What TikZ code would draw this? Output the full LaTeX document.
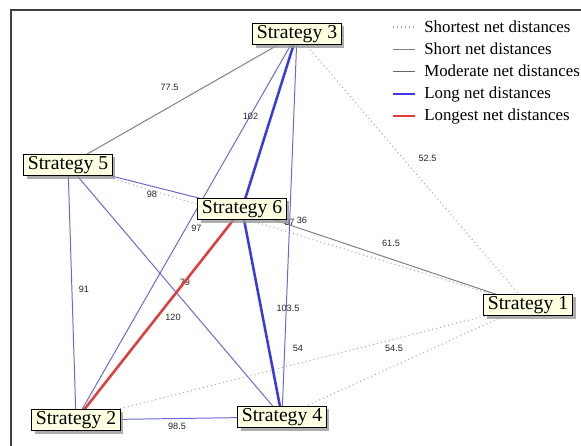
\documentclass[tikz,border=0pt]{standalone}
\usepackage{xcolor}
\usepackage{fontspec}
\usepackage{tikz}
\usetikzlibrary{shadows,backgrounds}
\setmainfont{Liberation Serif}
\newfontfamily\lblfont{Liberation Sans}
\definecolor{boxfill}{RGB}{255,255,225}
\definecolor{modblue}{RGB}{104,104,208}
\definecolor{longblue}{RGB}{58,58,226}
\definecolor{longred}{RGB}{226,60,60}
\definecolor{shortgray}{RGB}{128,128,128}

\tikzset{
  strat/.style={draw=black, fill=boxfill, line width=0.6pt, inner xsep=3pt, inner ysep=1.5pt,
    font=\fontsize{14}{16}\selectfont,
    drop shadow={shadow xshift=2.2pt, shadow yshift=-2.2pt, fill=gray!80, opacity=0.8}},
  lbl/.style={text=black!85, font=\lblfont\fontsize{6.5}{7}\selectfont, inner sep=0.5pt},
  legtext/.style={anchor=west, inner sep=0pt, font=\fontsize{12}{14}\selectfont},
  shortest/.style={gray!65, line width=0.8pt, dash pattern=on 0.7pt off 2.2pt},
  shortline/.style={shortgray, line width=0.7pt},
  moderate/.style={modblue, line width=0.7pt},
  longline/.style={longblue, line width=1.8pt},
  longest/.style={longred, line width=1.8pt}
}

\begin{document}
\begin{tikzpicture}[x=0.025cm, y=-0.025cm]
        \useasboundingbox (0,0) rectangle (581,446);

        % Marco
        \draw[black!75, line width=0.9pt] (11,446) -- (11,10) -- (581,10);

        % Cajas de estrategias
        \node[strat] (s3) at (297,34) {Strategy 3};
        \node[strat] (s5) at (68,165) {Strategy 5};
        \node[strat] (s6) at (242,209) {Strategy 6};
        \node[strat] (s1) at (528,305) {Strategy 1};
        \node[strat] (s2) at (76,420) {Strategy 2};
        \node[strat] (s4) at (282,417) {Strategy 4};

        % Distancias netas
        \begin{scope}[on background layer]
        \draw[shortest] (s1.center) -- node[lbl, shift={(15,-11)}] (d13) {52.5} (s3.center);
        \draw[shortest] (s1.center) -- node[lbl, shift={(4,-15)}] (d15) {36} (s5.center);
        \draw[shortest] (s1.center) -- node[lbl, shift={(-4,-14)}] (d12) {54} (s2.center);
        \draw[shortest] (s1.center) -- node[lbl, shift={(-11,-13)}] (d14) {54.5} (s4.center);
        \draw[shortline] (s3.center) -- node[lbl, shift={(-13,-12)}] (d35) {77.5} (s5.center);
        \draw[shortline] (s1.center) -- node[lbl, shift={(6,-14)}] (d16) {61.5} (s6.center);
        \draw[moderate] (s5.center) -- node[lbl, shift={(-3,7)}] (d56) {98} (s6.center);
        \draw[moderate] (s3.center) -- node[lbl, shift={(10,1)}] (d23) {97} (s2.center);
        \draw[moderate] (s3.center) -- node[lbl, shift={(0,-3)}] (d34) {97} (s4.center);
        \draw[moderate] (s5.center) -- node[lbl, shift={(12,-3)}] (d25) {91} (s2.center);
        \draw[moderate] (s5.center) -- node[lbl, shift={(10,-9)}] (d45) {79} (s4.center);
        \draw[moderate] (s2.center) -- node[lbl, shift={(-2,7.5)}] (d24) {98.5} (s4.center);
        \draw[longline] (s3.center) -- node[lbl, shift={(-19,-5)}] (d36) {102} (s6.center);
        \draw[longline] (s6.center) -- node[lbl, shift={(26,-5)}] (d46) {103.5} (s4.center);
        \draw[longest] (s6.center) -- node[lbl, shift={(14,3)}] (d26) {120} (s2.center);
        \end{scope}

        % Leyenda
        \node[legtext] (leg1) at (424,27) {Shortest net distances};
        \node[legtext] (leg2) at (424,49) {Short net distances};
        \node[legtext] (leg3) at (424,71) {Moderate net distances};
        \node[legtext] (leg4) at (424,94) {Long net distances};
        \node[legtext] (leg5) at (424,116) {Longest net distances};
        \coordinate (k1) at (393,27);
        \coordinate (k2) at (393,49);
        \coordinate (k3) at (393,71);
        \coordinate (k4) at (393,94);
        \coordinate (k5) at (393,116);
        \draw[shortest] (k1) -- +(22,0);
        \draw[shortline] (k2) -- +(22,0);
        \draw[black!60, line width=0.7pt] (k3) -- +(22,0);
        \draw[longblue, line width=1.2pt] (k4) -- +(22,0);
        \draw[longred, line width=1.2pt] (k5) -- +(22,0);
    \end{tikzpicture}
\end{document}
